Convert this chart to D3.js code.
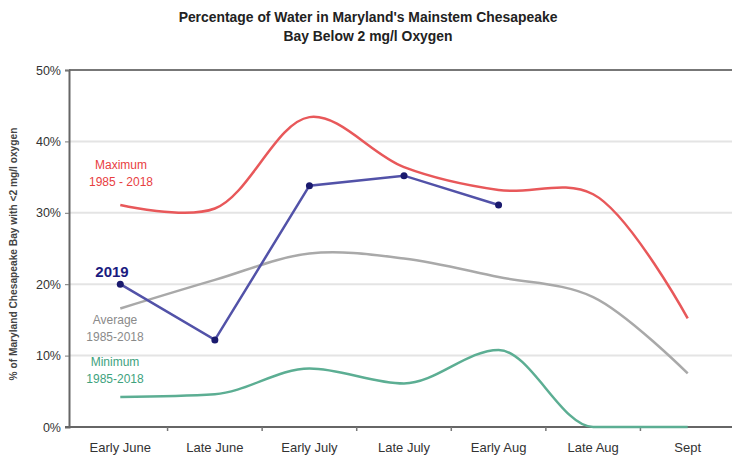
<!DOCTYPE html>
<html>
<head>
<meta charset="utf-8">
<script src="https://cdn.jsdelivr.net/npm/d3@7"></script>
<style>
  body { margin: 0; background: #fff; }
  svg { display: block; font-family: Arial, "Liberation Sans", sans-serif; }
</style>
</head>
<body>
<div id="chart"></div>
<script>
// chart data
var periods = ["Early June", "Late June", "Early July", "Late July", "Early Aug", "Late Aug", "Sept"];
var maxValues = [31.1, 30.6, 43.4, 36.4, 33.2, 32.6, 15.2];
var avgValues = [16.6, 20.6, 24.3, 23.6, 21.0, 18.2, 7.5];
var minValues = [4.2, 4.6, 8.2, 6.1, 10.8, 0, 0];
var values2019 = [20.0, 12.2, 33.8, 35.2, 31.1];
var yTicks = [0, 10, 20, 30, 40, 50];

var vis = {};
vis.width = 732;
vis.height = 459;
vis.margin = { top: 70, right: 0, bottom: 32, left: 69 };

vis.svg = d3.select("#chart").append("svg")
    .attr("width", vis.width)
    .attr("height", vis.height);

/*** SCALES */
vis.x = d3.scaleBand()
    .domain(periods)
    .range([73, 735]);

vis.y = d3.scaleLinear()
    .domain([0, 50])
    .range([vis.height - vis.margin.bottom, vis.margin.top]);

var cx = function(i) { return vis.x(periods[i]) + vis.x.bandwidth() / 2; };

/*** TITLE */
vis.svg.append("text")
    .attr("x", 368).attr("y", 22)
    .attr("text-anchor", "middle")
    .style("font-size", "13.9px").style("font-weight", "bold").style("fill", "#222")
    .text("Percentage of Water in Maryland's Mainstem Chesapeake");
vis.svg.append("text")
    .attr("x", 368).attr("y", 41)
    .attr("text-anchor", "middle")
    .style("font-size", "13.9px").style("font-weight", "bold").style("fill", "#222")
    .text("Bay Below 2 mg/l Oxygen");

/*** GRIDLINES */
vis.svg.append("g")
    .selectAll("line")
    .data(yTicks.filter(function(d) { return d > 0 && d < 50; }))
    .enter().append("line")
    .attr("x1", vis.margin.left).attr("x2", vis.width)
    .attr("y1", d => vis.y(d)).attr("y2", d => vis.y(d))
    .attr("stroke", "#e4e4e4").attr("stroke-width", 2);

// top frame line
vis.svg.append("line")
    .attr("x1", vis.margin.left).attr("x2", vis.width)
    .attr("y1", vis.y(50)).attr("y2", vis.y(50))
    .attr("stroke", "#777").attr("stroke-width", 2);

/*** AXES */
vis.yAxis = d3.axisLeft(vis.y)
    .tickValues(yTicks)
    .tickSize(4)
    .tickPadding(4)
    .tickFormat(d => d + "%");

vis.svg.append("g")
    .attr("class", "y-axis")
    .attr("transform", "translate(" + vis.margin.left + ",0)")
    .call(vis.yAxis)
    .call(g => g.select(".domain").attr("stroke", "#666").attr("stroke-width", 2))
    .call(g => g.selectAll(".tick line").attr("stroke", "#777"))
    .call(g => g.selectAll("text").style("font-size", "12.5px").style("fill", "#333").style("font-family", "Arial, sans-serif"));

// x axis: line along the bottom, ticks between the categories
var xBase = vis.y(0);
vis.svg.append("line")
    .attr("x1", vis.margin.left - 4).attr("x2", vis.width)
    .attr("y1", xBase).attr("y2", xBase)
    .attr("stroke", "#666").attr("stroke-width", 2);

vis.svg.append("g")
    .selectAll("line")
    .data(periods.slice(1))
    .enter().append("line")
    .attr("x1", d => vis.x(d)).attr("x2", d => vis.x(d))
    .attr("y1", xBase).attr("y2", xBase + 4)
    .attr("stroke", "#777").attr("stroke-width", 1.5);

vis.svg.append("g")
    .selectAll("text")
    .data(periods)
    .enter().append("text")
    .attr("x", (d, i) => cx(i))
    .attr("y", xBase + 25)
    .attr("text-anchor", "middle")
    .style("font-size", "13px").style("fill", "#333")
    .text(d => d);

// y axis title
vis.svg.append("text")
    .attr("transform", "translate(17," + 254 + ") rotate(-90)")
    .attr("text-anchor", "middle")
    .style("font-size", "10.2px").style("font-weight", "bold").style("fill", "#444")
    .text("% of Maryland Chesapeake Bay with <2 mg/l oxygen");

/*** LINES */
var smooth = d3.line()
    .x((d, i) => cx(i))
    .y(d => vis.y(d))
    .curve(d3.curveCatmullRom.alpha(0.5));

var smoothMono = d3.line()
    .x((d, i) => cx(i))
    .y(d => vis.y(d))
    .curve(d3.curveMonotoneX);

var straight = d3.line()
    .x((d, i) => cx(i))
    .y(d => vis.y(d));

vis.svg.append("path")
    .datum(avgValues)
    .attr("d", smooth)
    .attr("fill", "none").attr("stroke", "#a9a9a9").attr("stroke-width", 2.5);

vis.svg.append("path")
    .datum(minValues)
    .attr("d", smoothMono)
    .attr("fill", "none").attr("stroke", "#5cae93").attr("stroke-width", 2.5);

vis.svg.append("path")
    .datum(maxValues)
    .attr("d", smooth)
    .attr("fill", "none").attr("stroke", "#e8585a").attr("stroke-width", 2.5);

vis.svg.append("path")
    .datum(values2019)
    .attr("d", straight)
    .attr("fill", "none").attr("stroke", "#5252a8").attr("stroke-width", 2.5);

vis.svg.append("g")
    .selectAll("circle")
    .data(values2019)
    .enter().append("circle")
    .attr("cx", (d, i) => cx(i))
    .attr("cy", d => vis.y(d))
    .attr("r", 3.5)
    .attr("fill", "#1a1a6e");

/*** SERIES LABELS */
var labels = [
    { lines: ["Maximum", "1985 - 2018"], x: 121, y: 169, color: "#e8403f", size: "12px", weight: "normal" },
    { lines: ["2019"], x: 112, y: 277, color: "#1b1b80", size: "15px", weight: "bold" },
    { lines: ["Average", "1985-2018"], x: 115, y: 324, color: "#8a8a8a", size: "12px", weight: "normal" },
    { lines: ["Minimum", "1985-2018"], x: 115, y: 366, color: "#3ea27e", size: "12px", weight: "normal" }
];

labels.forEach(function(l) {
    var t = vis.svg.append("text")
        .attr("text-anchor", "middle")
        .style("font-size", l.size).style("font-weight", l.weight).style("fill", l.color);
    l.lines.forEach(function(s, i) {
        t.append("tspan").attr("x", l.x).attr("y", l.y + i * 17).text(s);
    });
});
</script>
</body>
</html>
